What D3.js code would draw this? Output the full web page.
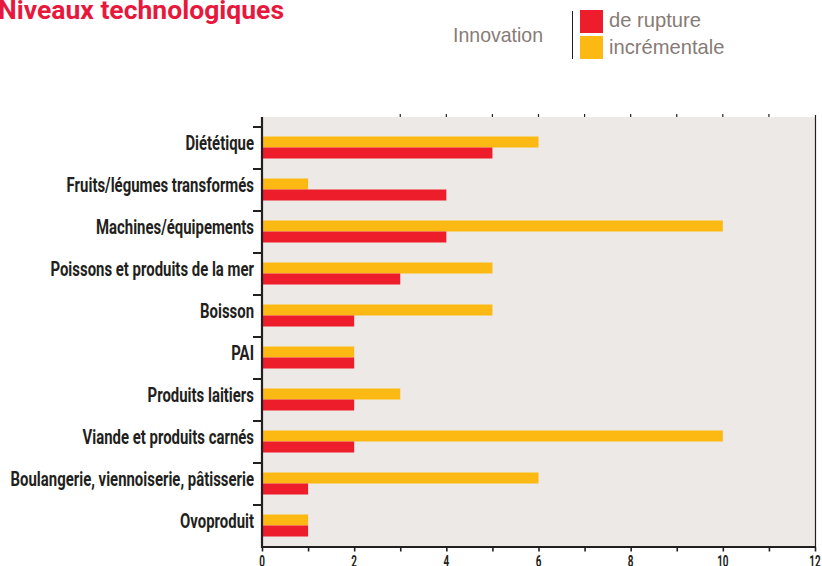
<!DOCTYPE html>
<html>
<head>
<meta charset="utf-8">
<script src="https://cdn.jsdelivr.net/npm/d3@7"></script>
<style>
  body { margin: 0; background: #fff; }
  svg { display: block; }
</style>
</head>
<body>
<div id="chart"></div>
<script>
// données
const categories = [
  "Diététique",
  "Fruits/légumes transformés",
  "Machines/équipements",
  "Poissons et produits de la mer",
  "Boisson",
  "PAI",
  "Produits laitiers",
  "Viande et produits carnés",
  "Boulangerie, viennoiserie, pâtisserie",
  "Ovoproduit"
];
const incrementale = [6, 1, 10, 5, 5, 2, 3, 10, 6, 1];
const rupture = [5, 4, 4, 3, 2, 2, 2, 2, 1, 1];
const xTicks = [0, 2, 4, 6, 8, 10, 12];
const topTicks = [3, 4, 5, 6, 7, 8, 9, 10, 11];

const W = 822, H = 566;
const colors = { rupture: "#ee1d2c", incrementale: "#fdb913" };
const ink = "#231f20";
const grey = "#877b76";

const svg = d3.select("#chart").append("svg")
  .attr("width", W)
  .attr("height", H);

const x = d3.scaleLinear().domain([0, 12]).range([262, 815]);
const y = d3.scaleBand().domain(categories).range([127, 547]).padding(0);
const ySub = d3.scaleBand().domain(["incrementale", "rupture"])
  .range([9.5, 31.5]).padding(0);

// fond
svg.append("rect")
  .attr("x", x(0)).attr("y", 117)
  .attr("width", x(12) - x(0)).attr("height", 547 - 117)
  .attr("fill", "#ede9e6");

// barres
const rows = categories.map((c, i) => ({
  cat: c,
  values: [
    { key: "incrementale", v: incrementale[i] },
    { key: "rupture", v: rupture[i] }
  ]
}));

const groups = svg.append("g").selectAll("g")
  .data(rows)
  .enter().append("g")
  .attr("transform", (d) => `translate(0,${y(d.cat)})`);

groups.selectAll("rect")
  .data((d) => d.values)
  .enter().append("rect")
  .attr("x", x(0))
  .attr("y", (d) => ySub(d.key))
  .attr("width", (d) => x(d.v) - x(0))
  .attr("height", ySub.bandwidth())
  .attr("fill", (d) => colors[d.key]);

// axe du bas
const xAxis = svg.append("g")
  .attr("transform", "translate(0,547)")
  .call(d3.axisBottom(x).ticks(12).tickSize(0).tickFormat(""));
xAxis.select(".domain").remove();
xAxis.append("line")
  .attr("x1", x(0) - 1).attr("x2", x(12) + 1)
  .attr("stroke", ink).attr("stroke-width", 2.2);
xAxis.selectAll(".tick line")
  .attr("y1", 0).attr("y2", 4.5)
  .attr("stroke", ink).attr("stroke-width", 1.6);

svg.append("g").selectAll("text")
  .data(xTicks)
  .enter().append("text")
  .attr("transform", (d) => `translate(${x(d)},566.5) scale(0.62,1)`)
  .attr("text-anchor", "middle")
  .attr("font-family", "Roboto")
  .attr("font-weight", 700)
  .attr("font-size", 16)
  .attr("fill", ink)
  .text((d) => d);

// petits repères en haut
svg.append("g").selectAll("line")
  .data(topTicks)
  .enter().append("line")
  .attr("x1", (d) => x(d)).attr("x2", (d) => x(d))
  .attr("y1", 114).attr("y2", 117)
  .attr("stroke", ink).attr("stroke-width", 1.2);

// bord droit
svg.append("line")
  .attr("x1", x(12) + 0.5).attr("x2", x(12) + 0.5)
  .attr("y1", 115).attr("y2", 547)
  .attr("stroke", ink).attr("stroke-width", 1.2);

// axe gauche
svg.append("line")
  .attr("x1", x(0)).attr("x2", x(0))
  .attr("y1", 117).attr("y2", 548)
  .attr("stroke", ink).attr("stroke-width", 2.2);

svg.append("g").selectAll("line")
  .data(categories)
  .enter().append("line")
  .attr("x1", x(0) - 9).attr("x2", x(0))
  .attr("y1", (d) => y(d)).attr("y2", (d) => y(d))
  .attr("stroke", ink).attr("stroke-width", 2);

svg.append("g").selectAll("text")
  .data(categories)
  .enter().append("text")
  .attr("transform", (d) => `translate(254,${y(d) + y.bandwidth() / 2 + 2}) scale(0.765,1)`)
  .attr("text-anchor", "end")
  .attr("font-family", "Roboto")
  .attr("font-weight", 700)
  .attr("font-size", 19.5)
  .attr("fill", ink)
  .text((d) => d);

// titre
svg.append("text")
  .attr("transform", "translate(-2,19) scale(1.02,1)")
  .attr("font-family", "Roboto")
  .attr("font-weight", 700)
  .attr("font-size", 26)
  .attr("fill", "#e8183c")
  .text("Niveaux technologiques");

// légende
const legend = svg.append("g").attr("font-family", "Liberation Sans").attr("fill", grey);

legend.append("text")
  .attr("transform", "translate(453,42) scale(0.93,1)")
  .attr("font-size", 21)
  .text("Innovation");

legend.append("line")
  .attr("x1", 572.5).attr("x2", 572.5)
  .attr("y1", 11).attr("y2", 59)
  .attr("stroke", ink).attr("stroke-width", 1);

const legendItems = [
  { key: "rupture", label: "de rupture" },
  { key: "incrementale", label: "incrémentale" }
];

legendItems.forEach((d, i) => {
  legend.append("rect")
    .attr("x", 580).attr("y", 10 + i * 26)
    .attr("width", 23).attr("height", 23)
    .attr("fill", colors[d.key]);
  legend.append("text")
    .attr("transform", `translate(609,${27 + i * 27}) scale(0.96,1)`)
    .attr("font-size", 21)
    .text(d.label);
});
</script>
</body>
</html>
